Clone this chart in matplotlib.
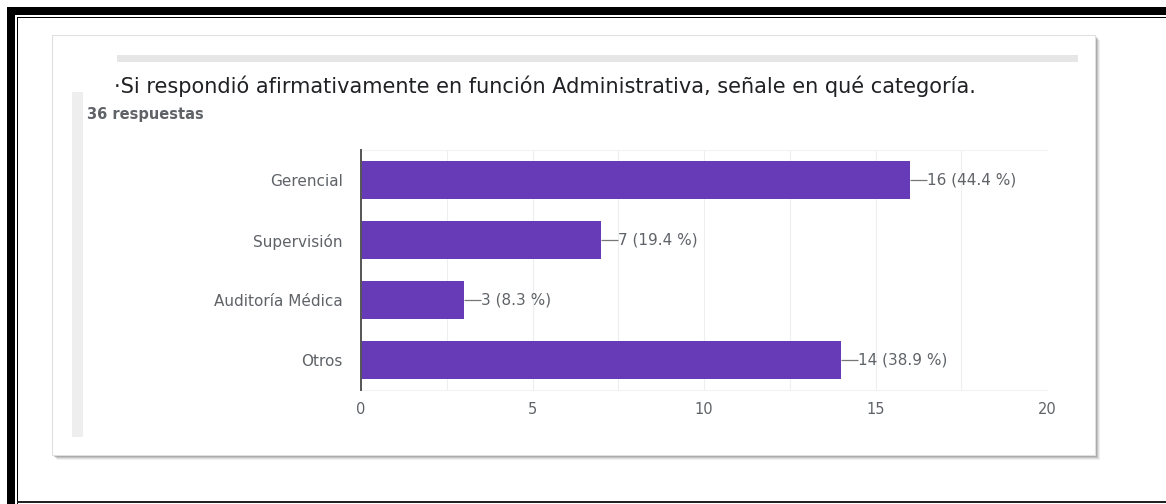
import matplotlib
matplotlib.use("Agg")
import matplotlib.pyplot as plt
from matplotlib.patches import Rectangle

W, H = 1166, 504

categorias = ["Gerencial", "Supervisión", "Auditoría Médica", "Otros"]
respuestas = [16, 7, 3, 14]
total = 36
ticks_x = [0, 5, 10, 15, 20]

titulo = "·Si respondió afirmativamente en función Administrativa, señale en qué categoría."
subtitulo = f"{total} respuestas"

BAR = "#673ab7"
GRIS = "#5f6368"
FUENTE = "DejaVu Sans"


def fx(x):
    return x / W


def fy(y):
    return 1 - y / H


def rect(fig, x0, y0, x1, y1, **kw):
    # rectangle given in pixel coordinates (origin top-left)
    r = Rectangle((fx(x0), fy(y1)), fx(x1) - fx(x0), fy(y0) - fy(y1),
                  transform=fig.transFigure, **kw)
    fig.add_artist(r)
    return r


fig = plt.figure(figsize=(W / 100, H / 100), dpi=100)
fig.patch.set_facecolor("white")

# double black frame on the left/top, thin line at the bottom
rect(fig, 7, 7, W, 15, color="black", lw=0, zorder=0)
rect(fig, 7, 7, 15, H, color="black", lw=0, zorder=0)
rect(fig, 17, 16.5, W, 18, color="black", lw=0, zorder=0)
rect(fig, 17, 16.5, 18.5, H, color="black", lw=0, zorder=0)
rect(fig, 17, 501, W, 503, color="#222222", lw=0, zorder=0)

# card with a soft shadow
for off, a in [(5, 0.08), (4, 0.12), (3, 0.18), (2, 0.25)]:
    rect(fig, 52 + off, 35 + off, 1095 + off, 455 + off,
         color="#555555", alpha=a, lw=0, zorder=1)
rect(fig, 52, 35, 1095, 455, facecolor="white", edgecolor="#e0e0e0",
     lw=0.8, zorder=2)
rect(fig, 117, 55, 1078, 62, color="#e6e6e6", lw=0, zorder=3)
rect(fig, 72, 92, 83, 437, color="#eeeeee", lw=0, zorder=3)

fig.text(fx(114), fy(86), titulo, fontsize=15, color="#202124",
         family=FUENTE, va="center", ha="left", zorder=4)
fig.text(fx(87), fy(114), subtitulo, fontsize=10.5, color=GRIS,
         family=FUENTE, fontweight="bold", va="center", ha="left", zorder=4)

ax = fig.add_axes([fx(361), fy(390), fx(1047) - fx(361), (390 - 150) / H],
                  zorder=5)
ax.patch.set_alpha(0)

pos = list(range(len(categorias)))
ax.barh(pos, respuestas, height=0.62, color=BAR, zorder=3)
ax.set_ylim(len(categorias) - 0.5, -0.5)
ax.set_xlim(0, 20)
ax.set_yticks(pos)
ax.set_yticklabels(categorias)
ax.set_xticks(ticks_x)
ax.set_xticks([2.5, 7.5, 12.5, 17.5], minor=True)
ax.tick_params(axis="both", which="both", length=0, labelsize=11,
               labelcolor=GRIS)
ax.tick_params(axis="x", labelsize=10.5, pad=9)
ax.tick_params(axis="y", pad=13)
for lbl in ax.get_xticklabels() + ax.get_yticklabels():
    lbl.set_family(FUENTE)
ax.grid(True, axis="x", which="both", color="#eeeeee", lw=0.8, zorder=0)

for s in ["top", "bottom"]:
    ax.spines[s].set_color("#f2f2f2")
    ax.spines[s].set_linewidth(0.8)
ax.spines["right"].set_visible(False)
ax.spines["left"].set_color("#555555")
ax.spines["left"].set_linewidth(1.4)
ax.spines["left"].set_zorder(4)

for i, v in enumerate(respuestas):
    ax.plot([v, v + 0.5], [i, i], color="#777777", lw=0.9, zorder=4,
            solid_capstyle="butt")
    ax.text(v + 0.5, i, f"{v} ({v / total * 100:.1f} %)", va="center",
            ha="left", fontsize=11, color=GRIS, family=FUENTE)

fig.savefig("out.png", dpi=100)
